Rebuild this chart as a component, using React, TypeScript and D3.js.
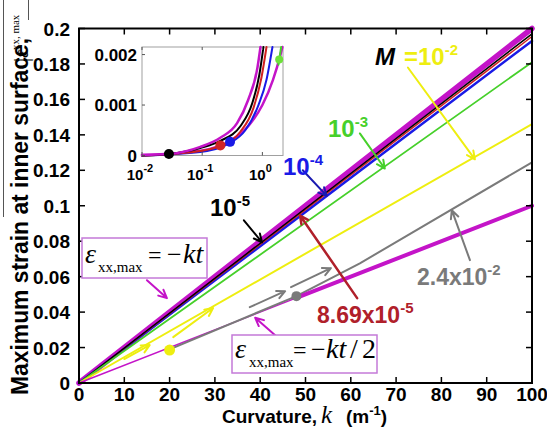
import React from 'react';
import * as d3 from 'd3';

const W = 547;
const H = 429;

// ---------- axis ticks ----------
const curvatureTicks = [0, 10, 20, 30, 40, 50, 60, 70, 80, 90, 100];
const strainTicks = [0, 0.02, 0.04, 0.06, 0.08, 0.1, 0.12, 0.14, 0.16, 0.18, 0.2];
const strainTickLabels = ['0', '0.02', '0.04', '0.06', '0.08', '0.1', '0.12', '0.14', '0.16', '0.18', '0.2'];

// ---------- main series (curvature k [1/m], strain) ----------
const boundKtK = [0, 100];
const boundKt = [0, 0.2];
const m1e5K = [0, 100];
const m1e5 = [0, 0.197];
const m869e5K = [0, 100];
const m869e5 = [0, 0.1955];
const m1e4K = [0, 100];
const m1e4 = [0, 0.193];
const m1e3K = [0, 100];
const m1e3 = [0, 0.181];
const m1e2K = [0, 100];
const m1e2 = [0, 0.146];
const m24e2K = [20, 48, 62, 100];
const m24e2 = [0.019, 0.049, 0.0675, 0.1245];
const boundHalfThinK = [0, 48];
const boundHalfThin = [0, 0.048];
const boundHalfK = [48, 100];
const boundHalf = [0.048, 0.1];
const critDotK = [20, 48];
const critDotStrain = [0.0186, 0.049];

// ---------- inset (log curvature) ----------
const insetXTicks = [0.01, 0.1, 1];
const insetXExp = ['-2', '-1', '0'];
const insetYTicks = [0, 0.001, 0.002];
const insetYLabels = ['0', '0.001', '0.002'];
const inBoundKtK = [0.01, 0.029, 0.093, 0.2, 0.38, 0.58, 0.83, 0.93];
const inBoundKt = [0.00001, 0.00003, 0.00017, 0.00035, 0.00064, 0.0011, 0.00175, 0.00215];
const in1e5K = [0.01, 0.028, 0.093, 0.2, 0.43, 0.68, 0.89, 1.04];
const in1e5 = [0, 0.00003, 0.00015, 0.00029, 0.00058, 0.00104, 0.0016, 0.00215];
const in869e5K = [0.01, 0.093, 0.2, 0.43, 0.71, 0.96, 1.17];
const in869e5 = [0, 0.00009, 0.00019, 0.00047, 0.00094, 0.00153, 0.00215];
const in1e4K = [0.01, 0.093, 0.29, 0.52, 0.86, 1.17, 1.47];
const in1e4 = [0, 0.00007, 0.00025, 0.0005, 0.001, 0.0015, 0.00215];
const inBoundHalfK = [0.01, 0.1, 0.3, 0.6, 1, 1.5, 2, 2.15];
const inBoundHalf = [0.00001, 0.0001, 0.0003, 0.0006, 0.001, 0.0015, 0.002, 0.00215];
const in1e3K = [1.85, 2.05];
const in1e3 = [0.0018, 0.00215];
const inDotK = [0.028, 0.2, 0.29, 1.9];
const inDotStrain = [0.00003, 0.0002, 0.00027, 0.0019];

const MAG = '#c414c8';
const BOXC = '#c47ad8';
const BLACK = '#000';
const RED = '#d02020';
const BLUE = '#1a1ae6';
const GREEN = '#46d02a';
const YELLOW = '#eeee10';
const GRAY = '#7a7a7a';
const DARKRED = '#b0202a';
const inDotColors = ['#000', '#d02525', '#1a1ae6', '#6ee03a'];

const SANS = "'Liberation Sans', Arial, Helvetica, sans-serif";
const SERIF = "'Liberation Serif', 'Times New Roman', serif";

// annotation arrows in data coords
const annotArrows = [
  { from: [36.4, 0.0918], to: [40.4, 0.0794], color: BLACK, w: 2 },
  { from: [49.4, 0.12], to: [54.7, 0.1056], color: '#1a1ab0', w: 2 },
  { from: [62, 0.1408], to: [67.5, 0.121], color: GREEN, w: 2 },
  { from: [72.6, 0.178], to: [87.4, 0.1262], color: YELLOW, w: 2 },
  { from: [86.3, 0.0693], to: [82.3, 0.0975], color: GRAY, w: 2 },
  { from: [61.4, 0.0479], to: [48.8, 0.0945], color: DARKRED, w: 2.5 },
  { from: [15, 0.058], to: [19.4, 0.0479], color: MAG, w: 2 },
  { from: [43.3, 0.027], to: [38.9, 0.0368], color: MAG, w: 2 },
  { from: [10, 0.0135], to: [15.6, 0.0214], color: YELLOW, w: 2 },
  { from: [20.8, 0.0259], to: [29.6, 0.0423], color: YELLOW, w: 2 },
  { from: [37.7, 0.0428], to: [45.5, 0.0518], color: GRAY, w: 2 },
  { from: [46.8, 0.0541], to: [55.6, 0.0648], color: GRAY, w: 2 },
];

function arrowPath(x1: number, y1: number, x2: number, y2: number, len = 9, ang = 0.45) {
  const a = Math.atan2(y2 - y1, x2 - x1);
  const h1x = x2 - len * Math.cos(a - ang);
  const h1y = y2 - len * Math.sin(a - ang);
  const h2x = x2 - len * Math.cos(a + ang);
  const h2y = y2 - len * Math.sin(a + ang);
  return `M${x1},${y1}L${x2},${y2}M${h1x},${h1y}L${x2},${y2}L${h2x},${h2y}`;
}

export default function App() {
  const x = d3.scaleLinear().domain([0, 100]).range([79, 532]);
  const y = d3.scaleLinear().domain([0, 0.2]).range([383, 28.5]);
  const line = d3.line<[number, number]>().x((d) => x(d[0])).y((d) => y(d[1]));
  const pts = (ks: number[], vs: number[]) => ks.map((k, i) => [k, vs[i]] as [number, number]);

  const ix = d3.scaleLog().domain([0.01, 2.2]).range([142, 283]);
  const iy = d3.scaleLinear().domain([0, 0.00215]).range([155.5, 47]);
  const iline = d3
    .line<[number, number]>()
    .x((d) => ix(d[0]))
    .y((d) => iy(d[1]))
    .curve(d3.curveMonotoneX);

  const mainSeries = [
    { k: boundKtK, v: boundKt, c: MAG, w: 5.5 },
    { k: m1e4K, v: m1e4, c: BLUE, w: 2.5 },
    { k: m869e5K, v: m869e5, c: RED, w: 1.5 },
    { k: m1e5K, v: m1e5, c: BLACK, w: 1.5 },
    { k: m1e3K, v: m1e3, c: GREEN, w: 1.8 },
    { k: m1e2K, v: m1e2, c: YELLOW, w: 2 },
    { k: boundHalfThinK, v: boundHalfThin, c: MAG, w: 1.5 },
    { k: m24e2K, v: m24e2, c: GRAY, w: 2 },
    { k: boundHalfK, v: boundHalf, c: MAG, w: 4 },
  ];

  const insetSeries = [
    { k: inBoundHalfK, v: inBoundHalf, c: MAG, w: 2.5 },
    { k: in1e4K, v: in1e4, c: BLUE, w: 2 },
    { k: in869e5K, v: in869e5, c: RED, w: 2 },
    { k: in1e5K, v: in1e5, c: BLACK, w: 2 },
    { k: inBoundKtK, v: inBoundKt, c: MAG, w: 2.5 },
    { k: in1e3K, v: in1e3, c: GREEN, w: 2 },
  ];

  return (
    <svg
      width={W}
      height={H}
      viewBox={`0 0 ${W} ${H}`}
      style={{ position: 'absolute', left: 0, top: 0, background: '#fff' }}
      fontFamily={SANS}
    >
      <rect x={0} y={0} width={W} height={H} fill="#fff" />

      {/* main series */}
      <g fill="none" strokeLinecap="round">
        {mainSeries.map((s, i) => (
          <path key={i} d={line(pts(s.k, s.v)) || ''} stroke={s.c} strokeWidth={s.w} />
        ))}
      </g>

      {/* critical points */}
      <circle cx={x(critDotK[0])} cy={y(critDotStrain[0])} r={5.5} fill={YELLOW} />
      <circle cx={x(critDotK[1])} cy={y(critDotStrain[1])} r={5} fill={GRAY} />

      {/* annotation arrows */}
      <g fill="none" strokeLinecap="round" strokeLinejoin="round">
        {annotArrows.map((a, i) => (
          <path
            key={i}
            d={arrowPath(x(a.from[0]), y(a.from[1]), x(a.to[0]), y(a.to[1]))}
            stroke={a.color}
            strokeWidth={a.w}
          />
        ))}
      </g>

      {/* frame */}
      <rect x={x(0)} y={y(0.2)} width={x(100) - x(0)} height={y(0) - y(0.2)} fill="none" stroke="#000" strokeWidth={2} />
      {curvatureTicks.map((t) => (
        <g key={'xt' + t}>
          <line x1={x(t)} x2={x(t)} y1={y(0)} y2={y(0) - 6} stroke="#000" strokeWidth={1.5} />
          <line x1={x(t)} x2={x(t)} y1={y(0.2)} y2={y(0.2) + 6} stroke="#000" strokeWidth={1.5} />
          <text x={x(t)} y={401} textAnchor="middle" fontSize={19} fontWeight="bold">
            {t}
          </text>
        </g>
      ))}
      {strainTicks.map((t, i) => (
        <g key={'yt' + i}>
          <line x1={x(0)} x2={x(0) + 6} y1={y(t)} y2={y(t)} stroke="#000" strokeWidth={1.5} />
          <line x1={x(100)} x2={x(100) - 6} y1={y(t)} y2={y(t)} stroke="#000" strokeWidth={1.5} />
          <text x={70} y={y(t) + 7} textAnchor="end" fontSize={19} fontWeight="bold">
            {strainTickLabels[i]}
          </text>
        </g>
      ))}

      {/* axis titles */}
      <text x={222} y={423} fontSize={19} fontWeight="bold">
        Curvature,
      </text>
      <text x={321} y={423} fontSize={25} fontStyle="italic" fontFamily={SERIF}>
        k
      </text>
      <text x={346} y={423} fontSize={19} fontWeight="bold">
        (m<tspan dy={-8} fontSize={13}>-1</tspan>
        <tspan dy={8}>)</tspan>
      </text>

      <g transform="translate(28,395) rotate(-90)">
        <text x={0} y={0} fontSize={23} fontWeight="bold" textLength={357} lengthAdjust="spacingAndGlyphs">
          Maximum strain at inner surface,
        </text>
      </g>
      <g transform="translate(28,62) rotate(-90)" fontFamily={SERIF}>
        <text x={0} y={0} fontSize={20}>
          |<tspan fontStyle="italic">ε</tspan>
          <tspan dy={-9} fontSize={11}>xx, max</tspan>
        </text>
      </g>
      <line x1={3.5} x2={3.5} y1={0} y2={217} stroke="#555" strokeWidth={1} />
      <line x1={28.5} x2={28.5} y1={0} y2={20} stroke="#555" strokeWidth={1} />

      {/* value labels */}
      <text x={210} y={216} fontSize={24} fontWeight="bold" fill={BLACK}>
        10<tspan dy={-10} fontSize={15}>-5</tspan>
      </text>
      <text x={283} y={175} fontSize={24} fontWeight="bold" fill={BLUE}>
        10<tspan dy={-10} fontSize={15}>-4</tspan>
      </text>
      <text x={328} y={137} fontSize={24} fontWeight="bold" fill={GREEN}>
        10<tspan dy={-10} fontSize={15}>-3</tspan>
      </text>
      <text x={375} y={65} fontSize={24} fontWeight="bold" fontStyle="italic" fill={BLACK}>
        M
      </text>
      <text x={404} y={65} fontSize={24} fontWeight="bold" fill={YELLOW}>
        =10<tspan dy={-10} fontSize={15}>-2</tspan>
      </text>
      <text x={417} y={285} fontSize={23} fontWeight="bold" fill={GRAY}>
        2.4x10<tspan dy={-10} fontSize={15}>-2</tspan>
      </text>
      <text x={317} y={323} fontSize={23} fontWeight="bold" fill={DARKRED}>
        8.69x10<tspan dy={-10} fontSize={15}>-5</tspan>
      </text>

      {/* formula boxes */}
      <rect x={82} y={238} width={125} height={40} fill="#fff" stroke={BOXC} strokeWidth={1.5} />
      <g fontFamily={SERIF}>
        <text x={85} y={263} fontSize={28} fontStyle="italic">ε</text>
        <text x={98} y={272} fontSize={15}>xx,max</text>
        <text x={148} y={263} fontSize={24}>=</text>
        <text x={167} y={263} fontSize={26}>−</text>
        <text x={183} y={263} fontSize={28} fontStyle="italic">kt</text>
      </g>
      <rect x={232} y={335} width={145} height={38} fill="#fff" stroke={BOXC} strokeWidth={1.5} />
      <g fontFamily={SERIF}>
        <text x={235} y={358} fontSize={28} fontStyle="italic">ε</text>
        <text x={249} y={367} fontSize={15}>xx,max</text>
        <text x={293} y={358} fontSize={24}>=</text>
        <text x={311} y={358} fontSize={26}>−</text>
        <text x={326} y={358} fontSize={28} fontStyle="italic">kt</text>
        <text x={350} y={358} fontSize={28}>/</text>
        <text x={362} y={358} fontSize={28}>2</text>
      </g>

      {/* inset */}
      <rect x={142} y={47} width={141} height={108.5} fill="#fff" stroke="#a0a0a0" strokeWidth={1} />
      <g fill="none" strokeLinecap="round">
        {insetSeries.map((s, i) => (
          <path key={i} d={iline(pts(s.k, s.v)) || ''} stroke={s.c} strokeWidth={s.w} />
        ))}
      </g>
      {inDotK.map((k, i) => (
        <circle key={'id' + i} cx={ix(k)} cy={iy(inDotStrain[i])} r={i === 3 ? 4 : 5} fill={inDotColors[i]} />
      ))}
      {insetXTicks.map((t, i) => (
        <g key={'ixt' + i}>
          <line x1={ix(t)} x2={ix(t)} y1={155.5} y2={152} stroke="#555" strokeWidth={1} />
          <line x1={ix(t)} x2={ix(t)} y1={47} y2={50} stroke="#555" strokeWidth={1} />
          <text x={ix(t) - 2} y={180} textAnchor="middle" fontSize={15} fontWeight="bold">
            10<tspan dy={-8} fontSize={11}>{insetXExp[i]}</tspan>
          </text>
        </g>
      ))}
      {insetYTicks.map((t, i) => (
        <g key={'iyt' + i}>
          <line x1={142} x2={145} y1={iy(t)} y2={iy(t)} stroke="#555" strokeWidth={1} />
          <text x={137} y={iy(t) + 6} textAnchor="end" fontSize={17} fontWeight="bold">
            {insetYLabels[i]}
          </text>
        </g>
      ))}
    </svg>
  );
}
